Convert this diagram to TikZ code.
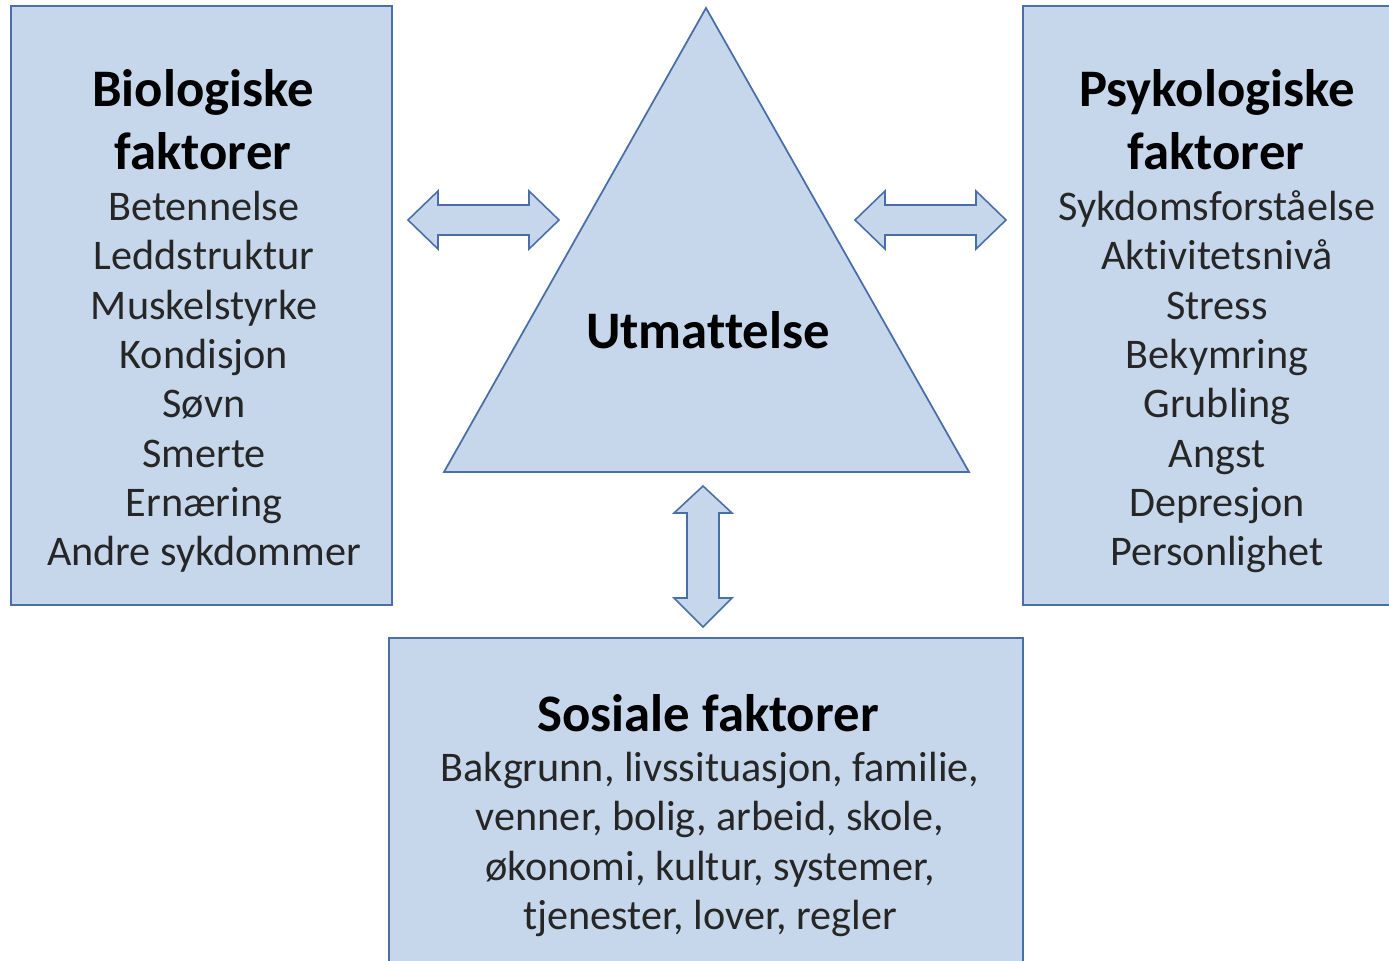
\documentclass[tikz,border=0pt]{standalone}
\usepackage{fontspec}
\setmainfont{Carlito}[Ligatures=NoCommon]
\usetikzlibrary{positioning}

\definecolor{boxfill}{RGB}{198,215,236}
\definecolor{boxline}{RGB}{74,110,168}
\definecolor{textgray}{RGB}{38,38,38}

\tikzset{
  factorbox/.style={draw=boxline, fill=boxfill, line width=0.6pt, inner sep=0pt},
  blockarrow/.style={draw=boxline, fill=boxfill, line width=0.45pt, line join=miter},
  headline/.style={anchor=base, inner sep=0pt, font=\fontsize{15}{18}\selectfont\bfseries},
  itemline/.style={anchor=base, inner sep=0pt, text=textgray, font=\fontsize{12}{14}\selectfont},
}

\begin{document}
\begin{tikzpicture}[x=0.01cm, y=-0.01cm]
  \useasboundingbox (0,0) rectangle (1389,960);

  % Factor boxes
  \node[factorbox, minimum width=3.81cm, minimum height=5.99cm] (bio) at (201.5,305.5) {};
  \node[factorbox, minimum width=3.87cm, minimum height=5.99cm] (psy) at (1216.5,305.5) {};
  \node[factorbox, minimum width=6.34cm, minimum height=3.42cm] (sos) at (706,809) {};

  % Triangle
  \coordinate (top) at (706,8);
  \coordinate (baseL) at (444,472);
  \coordinate (baseR) at (969,472);
  \draw[blockarrow, line width=0.5pt] (top) -- (baseL) -- (baseR) -- cycle;
  \node[headline] (tired) at (708,348) {Utmattelse};

  % Double arrows
  \draw[blockarrow] (408,220) -- (438,191) -- (438,205) -- (529,205) -- (529,191) -- (559,220)
    -- (529,249) -- (529,235) -- (438,235) -- (438,249) -- cycle;
  \draw[blockarrow] (855,220) -- (885,191) -- (885,205) -- (976,205) -- (976,191) -- (1006,220)
    -- (976,249) -- (976,235) -- (885,235) -- (885,249) -- cycle;
  \draw[blockarrow] (703,486) -- (732,513) -- (719,513) -- (719,598) -- (732,598) -- (703,627)
    -- (674,598) -- (687,598) -- (687,513) -- (674,513) -- cycle;

  % Biologiske faktorer
  \node[headline] (bio-title1) at (203,106) {Biologiske};
  \node[headline] (bio-title2) at (203,169) {faktorer};
  \foreach \word [count=\i] in {Betennelse, Leddstruktur, Muskelstyrke, Kondisjon,
      Søvn, Smerte, Ernæring, Andre sykdommer}
    \node[itemline] (bio-\i) at (204,{220.5+49.3*(\i-1)}) {\word};

  % Psykologiske faktorer
  \node[headline] (psy-title1) at (1217,106) {Psykologiske};
  \node[headline] (psy-title2) at (1216,169) {faktorer};
  \foreach \word [count=\i] in {Sykdomsforståelse, Aktivitetsnivå, Stress, Bekymring,
      Grubling, Angst, Depresjon, Personlighet}
    \node[itemline] (psy-\i) at (1217,{220.5+49.3*(\i-1)}) {\word};

  % Sosiale faktorer
  \node[headline] (sos-title) at (708,731) {Sosiale faktorer};
  \foreach \word [count=\i] in {{Bakgrunn, livssituasjon, familie,}, {venner, bolig, arbeid, skole,},
      {økonomi, kultur, systemer,}, {tjenester, lover, regler}}
    \node[itemline] (sos-\i) at (710,{781.5+49.3*(\i-1)}) {\word};
\end{tikzpicture}
\end{document}
